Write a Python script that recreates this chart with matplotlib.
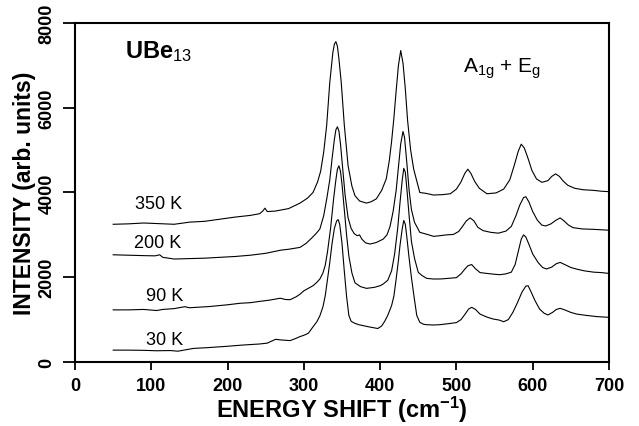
import matplotlib
matplotlib.use("Agg")
import matplotlib.pyplot as plt

plt.rcParams['font.family'] = ['Liberation Sans', 'DejaVu Sans']
plt.rcParams['mathtext.fontset'] = 'custom'
plt.rcParams['mathtext.rm'] = 'Liberation Sans'
plt.rcParams['mathtext.bf'] = 'Liberation Sans:bold'
plt.rcParams['mathtext.it'] = 'Liberation Sans:italic'

# spectra (energy shift in cm-1, intensity in arb. units, offsets included)
wn_350 = [50, 70, 90, 110, 130, 150, 170, 190, 210, 230, 242, 246, 249, 252, 262, 280, 295, 305, 312, 318,
          322, 326, 330, 334, 338, 340, 342, 344, 346, 349, 353, 358, 363, 367, 373, 382, 388, 395, 402, 408,
          412, 415, 418, 421, 424, 427, 430, 433, 436, 440, 444, 452, 460, 470, 482, 492, 500, 506, 511, 515,
          519, 524, 530, 540, 552, 562, 570, 576, 581, 585, 589, 594, 599, 605, 612, 620, 625, 630, 635, 640,
          646, 655, 666, 680, 690, 700]
int_350 = [3250, 3260, 3280, 3265, 3250, 3300, 3320, 3370, 3420, 3460, 3500, 3560, 3630, 3550, 3560, 3620, 3750, 3870, 4000, 4250,
           4500, 4950, 5600, 6600, 7300, 7500, 7560, 7450, 7150, 6600, 5600, 4630, 4150, 3925, 3800, 3750, 3780, 3850, 4050, 4320,
           4750, 5200, 5750, 6400, 7000, 7350, 7050, 6450, 5700, 5000, 4550, 4000, 3980, 3940, 3950, 3970, 4080, 4250, 4450, 4550,
           4450, 4260, 4100, 3970, 3990, 4080, 4300, 4650, 4970, 5140, 5050, 4800, 4520, 4320, 4240, 4280, 4380, 4440, 4380, 4270,
           4170, 4100, 4065, 4050, 4030, 4020]

wn_200 = [50, 70, 90, 105, 111, 115, 130, 150, 170, 190, 210, 230, 250, 270, 280, 290, 295, 303, 310, 316,
          321, 326, 330, 334, 337, 340, 342, 344, 346, 348, 351, 354, 358, 362, 366, 370, 373, 376, 381, 387,
          395, 404, 409, 413, 417, 421, 424, 427, 430, 432, 435, 438, 441, 445, 452, 462, 470, 478, 487, 496,
          503, 508, 513, 518, 523, 528, 535, 545, 555, 565, 572, 578, 583, 588, 591, 595, 600, 606, 612, 617,
          624, 630, 636, 641, 647, 653, 665, 680, 690, 700]
int_200 = [2530, 2520, 2510, 2505, 2530, 2470, 2430, 2440, 2450, 2470, 2490, 2520, 2565, 2640, 2660, 2690, 2705, 2800, 2920, 3030,
           3140, 3450, 3850, 4300, 4800, 5250, 5480, 5550, 5450, 5150, 4550, 3950, 3400, 3150, 3030, 2980, 3000, 2900, 2810, 2784,
           2820, 2900, 3000, 3200, 3550, 4050, 4600, 5150, 5440, 5300, 4700, 4050, 3600, 3300, 3060, 3010, 2965, 2980, 3000, 3010,
           3080, 3200, 3330, 3400, 3330, 3180, 3100, 3060, 3040, 3090, 3200, 3450, 3700, 3880, 3900, 3780, 3550, 3350, 3230, 3210,
           3260, 3340, 3400, 3330, 3230, 3170, 3140, 3130, 3120, 3110]

wn_90 = [50, 70, 90, 107, 115, 130, 144, 150, 177, 200, 216, 230, 242, 255, 269, 276, 282, 290, 295, 300,
         306, 312, 317, 321, 325, 328, 331, 335, 339, 342, 344, 346, 348, 350, 353, 356, 359, 363, 367, 374,
         382, 392, 400, 404, 410, 415, 419, 423, 426, 429, 431, 433, 435, 438, 441, 445, 450, 455, 461, 470,
         480, 490, 500, 506, 511, 515, 520, 525, 531, 540, 550, 557, 565, 572, 577, 581, 585, 588, 591, 595,
         600, 607, 613, 618, 625, 631, 636, 642, 650, 658, 668, 680, 690, 700]
int_90 = [1230, 1230, 1240, 1215, 1240, 1260, 1305, 1280, 1310, 1350, 1385, 1400, 1430, 1460, 1505, 1475, 1470, 1540, 1600, 1680,
          1740, 1800, 1880, 1958, 2100, 2280, 2600, 3150, 3850, 4300, 4550, 4630, 4500, 4200, 3600, 3000, 2500, 2100, 1870, 1780,
          1738, 1760, 1800, 1840, 1930, 2150, 2550, 3150, 3750, 4300, 4570, 4480, 4100, 3450, 2850, 2450, 2114, 2040, 1974, 1958,
          1960, 1975, 1990, 2080, 2190, 2270, 2300, 2200, 2110, 2090, 2070, 2060, 2080, 2120, 2300, 2600, 2900, 3000, 2950, 2780,
          2550, 2350, 2230, 2195, 2240, 2320, 2350, 2300, 2230, 2190, 2150, 2120, 2110, 2090]

wn_30 = [50, 70, 90, 107, 125, 135, 155, 175, 199, 220, 242, 252, 258, 263, 270, 282, 290, 295, 300, 306, 312,
         317, 321, 325, 328, 331, 334, 337, 340, 343, 345, 347, 350, 353, 356, 359, 362, 366, 372, 385, 397,
         402, 406, 410, 415, 418, 421, 424, 426, 429, 431, 433, 435, 438, 441, 444, 448, 452, 457, 461, 470,
         478, 490, 500, 506, 511, 516, 520, 525, 531, 540, 548, 556, 562, 568, 574, 580, 586, 591, 594, 598,
         603, 609, 615, 620, 626, 631, 636, 642, 650, 658, 670, 685, 700]
int_30 = [280, 280, 275, 265, 270, 255, 320, 340, 370, 400, 425, 445, 495, 535, 520, 505, 560, 600, 630, 680, 830,
          950, 1090, 1300, 1560, 1950, 2350, 2800, 3150, 3330, 3360, 3250, 2800, 2150, 1550, 1100, 960, 920, 880, 830, 790,
          850, 960, 1100, 1330, 1550, 1958, 2400, 2745, 3150, 3340, 3250, 2950, 2450, 2000, 1600, 1100, 936, 890, 880, 873,
          880, 905, 930, 1000, 1120, 1250, 1290, 1240, 1130, 1060, 1015, 990, 950, 1000, 1170, 1400, 1650, 1790, 1800, 1650,
          1450, 1250, 1150, 1110, 1170, 1240, 1266, 1230, 1170, 1130, 1100, 1070, 1054]

temps = ['350 K', '200 K', '90 K', '30 K']
label_pos = [(79, 3730), (77, 2810), (93, 1580), (93, 540)]

fig = plt.figure(figsize=(6.39, 4.27), dpi=100)
ax = fig.add_axes([0.1174, 0.1499, 0.8356, 0.7939])

for wn, inten in [(wn_350, int_350), (wn_200, int_200), (wn_90, int_90), (wn_30, int_30)]:
    ax.plot(wn, inten, color='black', lw=0.8)

for t, (lx, ly) in zip(temps, label_pos):
    ax.text(lx, ly, t, fontsize=13, va='center', ha='left')

ax.text(65, 7340, r'UBe$_{13}$', fontsize=17, fontweight='bold', va='center', ha='left')
ax.text(508, 6940, r'A$_{\mathrm{1g}}$ + E$_{\mathrm{g}}$', fontsize=15, va='center', ha='left')

ax.set_xlim(0, 700)
ax.set_ylim(0, 8000)
ax.set_xticks(range(0, 701, 100))
ax.set_yticks(range(0, 8001, 2000))
ax.tick_params(direction='out', width=1.3, labelsize=13)
ax.tick_params(axis='x', length=6, pad=5)
ax.tick_params(axis='y', length=9, pad=5)
for lab in ax.get_xticklabels() + ax.get_yticklabels():
    lab.set_fontweight('bold')
for lab in ax.get_yticklabels():
    lab.set_rotation(90)
    lab.set_va('center')

for s in ax.spines.values():
    s.set_linewidth(1.5)

ax.set_xlabel(r'ENERGY SHIFT (cm$^{\mathbf{-1}}$)', fontsize=17, fontweight='bold', labelpad=0)
ax.set_ylabel('INTENSITY (arb. units)', fontsize=16.5, fontweight='bold', labelpad=2)

fig.savefig('out.png', dpi=100)
